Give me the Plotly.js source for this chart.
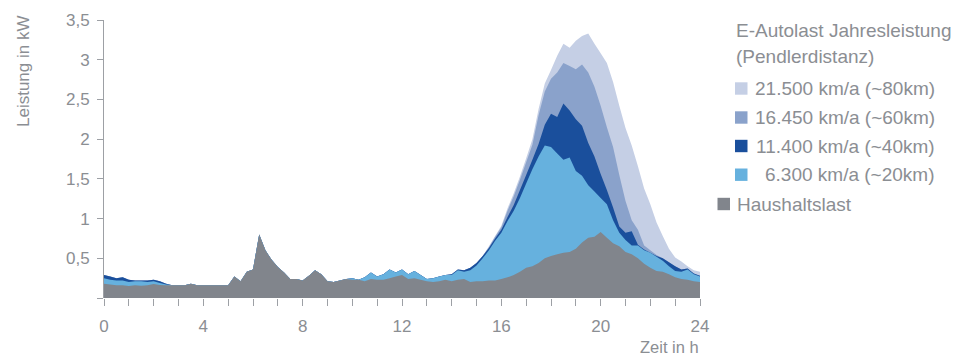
<!DOCTYPE html>
<html>
<head>
<meta charset="utf-8">
<script src="https://cdn.plot.ly/plotly-3.0.1.min.js"></script>
<style>
  html, body { margin: 0; padding: 0; background: #ffffff; }
  #chart { width: 973px; height: 358px; }
</style>
</head>
<body>
<div id="chart"></div>
<script>
// Time of day in quarter-hour steps (0 … 24 h)
const hours = Array.from({ length: 97 }, (_, i) => i / 4);

// Household load in kW (one row per hour, four quarter-hours each)
const haushalt = [
  0.18, 0.17, 0.16, 0.16,
  0.15, 0.16, 0.155, 0.16,
  0.175, 0.165, 0.16, 0.16,
  0.16, 0.16, 0.18, 0.16,
  0.16, 0.16, 0.16, 0.16,
  0.16, 0.27, 0.21, 0.33,
  0.36, 0.80, 0.60, 0.48,
  0.39, 0.32, 0.24, 0.24,
  0.22, 0.28, 0.35, 0.30,
  0.21, 0.20, 0.22, 0.24,
  0.23, 0.23, 0.21, 0.24,
  0.23, 0.23, 0.25, 0.27,
  0.29, 0.24, 0.25, 0.23,
  0.21, 0.20, 0.21, 0.23,
  0.21, 0.23, 0.24, 0.20,
  0.21, 0.21, 0.22, 0.22,
  0.24, 0.26, 0.29, 0.33,
  0.38, 0.40, 0.44, 0.50,
  0.53, 0.55, 0.57, 0.58,
  0.62, 0.70, 0.76, 0.77,
  0.83, 0.76, 0.69, 0.65,
  0.58, 0.55, 0.50, 0.43,
  0.38, 0.34, 0.33, 0.30,
  0.26, 0.24, 0.23, 0.21,
  0.20
];

// Household + e-car load, 6.300 km/a (~20 km)
const last20km = [
  0.25, 0.23, 0.22, 0.22,
  0.20, 0.21, 0.21, 0.20,
  0.21, 0.19, 0.17, 0.16,
  0.16, 0.16, 0.18, 0.16,
  0.16, 0.16, 0.16, 0.16,
  0.16, 0.27, 0.21, 0.33,
  0.36, 0.80, 0.60, 0.48,
  0.39, 0.32, 0.24, 0.24,
  0.22, 0.28, 0.35, 0.30,
  0.21, 0.20, 0.22, 0.24,
  0.25, 0.23, 0.26, 0.32,
  0.27, 0.30, 0.36, 0.32,
  0.36, 0.30, 0.34, 0.29,
  0.24, 0.25, 0.27, 0.29,
  0.29, 0.35, 0.33, 0.35,
  0.41, 0.50, 0.60, 0.72,
  0.82, 0.97, 1.10, 1.26,
  1.44, 1.62, 1.78, 1.92,
  1.90, 1.82, 1.74, 1.77,
  1.60, 1.54, 1.42, 1.34,
  1.26, 1.18, 0.98, 0.82,
  0.73, 0.66, 0.66, 0.60,
  0.57, 0.52, 0.47, 0.40,
  0.34, 0.33, 0.36, 0.30,
  0.27
];

// Household + e-car load, 11.400 km/a (~40 km)
const last40km = [
  0.29, 0.27, 0.25, 0.26,
  0.23, 0.22, 0.22, 0.22,
  0.23, 0.21, 0.18, 0.16,
  0.16, 0.16, 0.18, 0.16,
  0.16, 0.16, 0.16, 0.16,
  0.16, 0.27, 0.21, 0.33,
  0.36, 0.80, 0.60, 0.48,
  0.39, 0.32, 0.24, 0.24,
  0.22, 0.28, 0.35, 0.30,
  0.21, 0.20, 0.22, 0.24,
  0.25, 0.23, 0.26, 0.32,
  0.27, 0.30, 0.36, 0.32,
  0.36, 0.30, 0.34, 0.29,
  0.24, 0.25, 0.27, 0.29,
  0.30, 0.36, 0.35, 0.38,
  0.44, 0.53, 0.63, 0.75,
  0.86, 1.02, 1.17, 1.36,
  1.55, 1.74, 1.94, 2.18,
  2.32, 2.28, 2.45, 2.36,
  2.25, 2.17, 1.95, 1.78,
  1.56, 1.36, 1.14, 0.90,
  0.82, 0.84, 0.67, 0.61,
  0.57, 0.53, 0.50, 0.45,
  0.40, 0.36, 0.37, 0.31,
  0.28
];

// Household + e-car load, 16.450 km/a (~60 km)
const last60km = [
  0.29, 0.27, 0.25, 0.26,
  0.23, 0.22, 0.22, 0.22,
  0.23, 0.21, 0.18, 0.16,
  0.16, 0.16, 0.18, 0.16,
  0.16, 0.16, 0.16, 0.16,
  0.16, 0.27, 0.21, 0.33,
  0.36, 0.80, 0.60, 0.48,
  0.39, 0.32, 0.24, 0.24,
  0.22, 0.28, 0.35, 0.30,
  0.21, 0.20, 0.22, 0.24,
  0.25, 0.23, 0.26, 0.32,
  0.27, 0.30, 0.36, 0.32,
  0.36, 0.30, 0.34, 0.29,
  0.24, 0.25, 0.27, 0.29,
  0.30, 0.36, 0.35, 0.38,
  0.44, 0.53, 0.64, 0.77,
  0.89, 1.10, 1.28, 1.49,
  1.71, 1.93, 2.30, 2.60,
  2.76, 2.84, 2.96, 2.92,
  2.88, 2.94, 2.84, 2.66,
  2.42, 2.15, 1.90, 1.55,
  1.22, 0.98, 0.86, 0.66,
  0.60, 0.54, 0.50, 0.45,
  0.40, 0.36, 0.37, 0.31,
  0.28
];

// Household + e-car load, 21.500 km/a (~80 km)
const last80km = [
  0.29, 0.27, 0.25, 0.26,
  0.23, 0.22, 0.22, 0.22,
  0.23, 0.21, 0.18, 0.16,
  0.16, 0.16, 0.18, 0.16,
  0.16, 0.16, 0.16, 0.16,
  0.16, 0.27, 0.21, 0.33,
  0.36, 0.80, 0.60, 0.48,
  0.39, 0.32, 0.24, 0.24,
  0.22, 0.28, 0.35, 0.30,
  0.21, 0.20, 0.22, 0.24,
  0.25, 0.23, 0.26, 0.32,
  0.27, 0.30, 0.36, 0.32,
  0.36, 0.30, 0.34, 0.29,
  0.24, 0.25, 0.27, 0.29,
  0.30, 0.36, 0.35, 0.38,
  0.44, 0.53, 0.65, 0.78,
  0.91, 1.13, 1.32, 1.53,
  1.76, 2.00, 2.38, 2.70,
  2.87, 3.05, 3.20, 3.15,
  3.24, 3.30, 3.33, 3.20,
  3.08, 2.96, 2.72, 2.42,
  2.14, 1.92, 1.66, 1.38,
  1.18, 0.95, 0.78, 0.62,
  0.51, 0.46, 0.40, 0.35,
  0.33
];

// Axis ticks
const xTickVals = Array.from({ length: 25 }, (_, i) => i);
const xTickText = ['0', '', '', '', '4', '', '', '', '8', '', '', '', '12', '', '', '', '16', '', '', '', '20', '', '', '', '24'];
const yTickVals = [0, 0.5, 1, 1.5, 2, 2.5, 3, 3.5];
const yTickText = ['', '0,5', '1', '1,5', '2', '2,5', '3', '3,5'];

// Legend entries
const legendTitle = ['E-Autolast Jahresleistung', '(Pendlerdistanz)'];
const seriesNames = ['21.500 km/a (~80km)', '16.450 km/a (~60km)', '11.400 km/a (~40km)', '6.300 km/a (~20km)'];
const householdName = 'Haushaltslast';

const colors = {
  km80: '#c5cfe5',
  km60: '#8aa2cb',
  km40: '#1a4f9c',
  km20: '#66b1de',
  haushalt: '#81858c'
};

const FONT = '"Liberation Sans", Arial, sans-serif';
const TEXT = '#8b8e93';
const AXIS = '#9da0a5';

// Plot area in pixels, used to place the legend and axis titles
const L = 104, R = 700, T = 20, B = 298;
const px = v => (v - L) / (R - L);
const py = v => (B - v) / (B - T);

function area(y, color, name) {
  return {
    x: hours, y: y, name: name, type: 'scatter', mode: 'none',
    fill: 'tozeroy', fillcolor: color, line: { width: 0 },
    hoverinfo: 'skip', showlegend: false
  };
}

// Largest scenario at the back, household load in front
const traces = [
  area(last80km, colors.km80, seriesNames[0]),
  area(last60km, colors.km60, seriesNames[1]),
  area(last40km, colors.km40, seriesNames[2]),
  area(last20km, colors.km20, seriesNames[3]),
  area(haushalt, colors.haushalt, householdName)
];

const legendFont = { family: FONT, size: 19, color: TEXT };
const annotations = [
  { text: 'Leistung in kW', xref: 'paper', yref: 'paper', x: px(23), y: py(71),
    textangle: -90, showarrow: false, xanchor: 'center', yanchor: 'middle',
    font: { family: FONT, size: 17, color: TEXT } },
  { text: 'Zeit in h', xref: 'paper', yref: 'paper', x: px(701), y: py(347),
    showarrow: false, xanchor: 'right', yanchor: 'middle',
    font: { family: FONT, size: 16.5, color: TEXT } },
  { text: legendTitle[0], xref: 'paper', yref: 'paper', x: px(734), y: py(30),
    showarrow: false, xanchor: 'left', yanchor: 'middle', font: legendFont },
  { text: legendTitle[1], xref: 'paper', yref: 'paper', x: px(734), y: py(57),
    showarrow: false, xanchor: 'left', yanchor: 'middle', font: legendFont }
];

const shapes = [];
const itemRows = [88.5, 117.5, 146, 174.7];
const itemColors = [colors.km80, colors.km60, colors.km40, colors.km20];
itemRows.forEach((cy, i) => {
  shapes.push({ type: 'rect', xref: 'paper', yref: 'paper',
    x0: px(735), x1: px(747.5), y0: py(cy + 6.2), y1: py(cy - 6.2),
    fillcolor: itemColors[i], line: { width: 0 } });
  annotations.push({ text: seriesNames[i], xref: 'paper', yref: 'paper',
    x: px(937), y: py(cy), showarrow: false, xanchor: 'right', yanchor: 'middle',
    font: legendFont });
});
shapes.push({ type: 'rect', xref: 'paper', yref: 'paper',
  x0: px(717.5), x1: px(730), y0: py(204 + 6.2), y1: py(204 - 6.2),
  fillcolor: colors.haushalt, line: { width: 0 } });
annotations.push({ text: householdName, xref: 'paper', yref: 'paper',
  x: px(735), y: py(204), showarrow: false, xanchor: 'left', yanchor: 'middle',
  font: legendFont });

const layout = {
  width: 973, height: 358,
  margin: { l: L, r: 973 - R, t: T, b: 358 - B, pad: 0 },
  paper_bgcolor: '#ffffff', plot_bgcolor: '#ffffff',
  showlegend: false,
  font: { family: FONT, color: TEXT },
  xaxis: {
    range: [0, 24], tickvals: xTickVals, ticktext: xTickText,
    ticks: 'outside', ticklen: 7, tickwidth: 1, tickcolor: AXIS,
    showline: false, showgrid: false, zeroline: false,
    tickfont: { family: FONT, size: 17, color: TEXT }, ticklabelstandoff: 6,
    fixedrange: true
  },
  yaxis: {
    range: [0, 3.5], tickvals: yTickVals, ticktext: yTickText,
    ticks: 'outside', ticklen: 6, tickwidth: 1, tickcolor: AXIS,
    showline: true, linecolor: AXIS, linewidth: 1,
    showgrid: false, zeroline: false,
    tickfont: { family: FONT, size: 17, color: TEXT }, ticklabelstandoff: 4,
    fixedrange: true
  },
  annotations: annotations,
  shapes: shapes
};

Plotly.newPlot('chart', traces, layout, { staticPlot: true, displayModeBar: false });
</script>
</body>
</html>
